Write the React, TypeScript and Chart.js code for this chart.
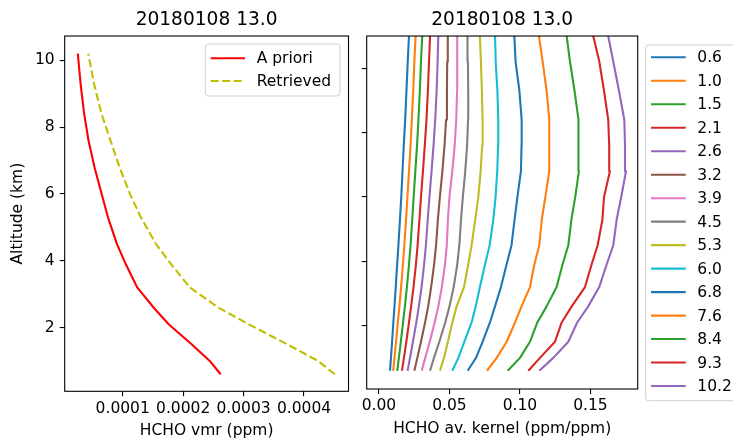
import React, { useEffect, useRef } from "react";
import { Chart, registerables } from "chart.js";

Chart.register(...registerables);

// ---------------- data ----------------
const titleText = "20180108 13.0";

const altitudes = [0.6, 1.0, 1.5, 2.1, 2.6, 3.2, 3.9, 4.5, 5.3, 6.0, 6.8, 7.6, 8.4, 9.3, 10.2];
const aprioriVmr = [0.000262, 0.000244, 0.000214, 0.000176, 0.000151, 0.000124, 0.000105, 0.0000905, 0.0000756, 0.0000652, 0.0000533, 0.0000434, 0.0000362, 0.0000303, 0.0000257];
const retrievedVmr = [0.000451, 0.000423, 0.000372, 0.000308, 0.000258, 0.000211, 0.00018, 0.000155, 0.00013, 0.000112, 0.0000947, 0.0000798, 0.0000649, 0.0000525, 0.000043];

const vmrTicks = [0.0001, 0.0002, 0.0003, 0.0004];
const vmrTickLabels = ["0.0001", "0.0002", "0.0003", "0.0004"];
const altTicks = [2, 4, 6, 8, 10];
const altTickLabels = ["2", "4", "6", "8", "10"];
const akTicks = [0, 0.05, 0.1, 0.15];
const akTickLabels = ["0.00", "0.05", "0.10", "0.15"];

// kernel profile altitudes (last level lies above the plotted range)
const kernelAltitudes = [0.6, 1.0, 1.5, 2.1, 2.6, 3.2, 3.9, 4.5, 5.3, 6.0, 6.8, 7.6, 8.4, 9.3, 10.2, 11.2];
const kernelLabels = ["0.6", "1.0", "1.5", "2.1", "2.6", "3.2", "3.9", "4.5", "5.3", "6.0", "6.8", "7.6", "8.4", "9.3", "10.2"];

const ak06 = [0.0078, 0.0085, 0.0093, 0.0102, 0.011, 0.0119, 0.0129, 0.0138, 0.0149, 0.0158, 0.0167, 0.0176, 0.0186, 0.0195, 0.0204, 0.0215];
const ak10 = [0.0101, 0.011, 0.0121, 0.0134, 0.0145, 0.0157, 0.017, 0.018, 0.0192, 0.0202, 0.0213, 0.0224, 0.0233, 0.0243, 0.0251, 0.0262];
const ak15 = [0.013, 0.0141, 0.0155, 0.0171, 0.0184, 0.0198, 0.0213, 0.0224, 0.0236, 0.0246, 0.0258, 0.027, 0.028, 0.029, 0.0298, 0.0309];
const ak21 = [0.0163, 0.0177, 0.0194, 0.0213, 0.0228, 0.0245, 0.0262, 0.0274, 0.0287, 0.0298, 0.0312, 0.0325, 0.0337, 0.0347, 0.0355, 0.0364];
const ak26 = [0.0203, 0.022, 0.0241, 0.0265, 0.0283, 0.0302, 0.032, 0.0333, 0.0346, 0.0358, 0.0373, 0.0387, 0.0399, 0.0409, 0.0416, 0.0422];
const ak32 = [0.0251, 0.0272, 0.0298, 0.0327, 0.0349, 0.037, 0.0391, 0.0405, 0.0418, 0.0432, 0.045, 0.0465, 0.0476, 0.0482, 0.0484, 0.0488];
const ak39 = [0.0303, 0.0328, 0.036, 0.0395, 0.0421, 0.0446, 0.0468, 0.0481, 0.0489, 0.05, 0.052, 0.0537, 0.0548, 0.0554, 0.0555, 0.0555];
const ak45 = [0.0362, 0.039, 0.0428, 0.047, 0.05, 0.053, 0.0555, 0.057, 0.0582, 0.0595, 0.0612, 0.0625, 0.0632, 0.0633, 0.0631, 0.0628];
const ak53 = [0.0433, 0.0461, 0.0489, 0.052, 0.0551, 0.0603, 0.0633, 0.0657, 0.0683, 0.0705, 0.0721, 0.0732, 0.0735, 0.073, 0.0723, 0.0714];
const ak60 = [0.052, 0.0563, 0.0605, 0.0657, 0.0686, 0.0716, 0.0752, 0.0785, 0.0811, 0.0827, 0.0839, 0.0845, 0.0846, 0.084, 0.0828, 0.0822];
const ak68 = [0.0629, 0.0688, 0.0735, 0.0787, 0.0823, 0.0865, 0.0905, 0.094, 0.0962, 0.0982, 0.1007, 0.1011, 0.1012, 0.0996, 0.0969, 0.0958];
const ak76 = [0.0766, 0.0835, 0.0906, 0.0965, 0.1011, 0.1071, 0.1102, 0.1137, 0.1155, 0.118, 0.1208, 0.1208, 0.1208, 0.1189, 0.1161, 0.1128];
const ak84 = [0.0913, 0.1, 0.1071, 0.1123, 0.1189, 0.126, 0.1302, 0.1343, 0.1365, 0.1392, 0.1418, 0.1416, 0.1414, 0.1387, 0.1355, 0.1325];
const ak93 = [0.1059, 0.1142, 0.1248, 0.1296, 0.1367, 0.1461, 0.1508, 0.1551, 0.1585, 0.1596, 0.1638, 0.1633, 0.1626, 0.1596, 0.1563, 0.1509];
const ak102 = [0.1137, 0.1236, 0.1343, 0.1406, 0.1484, 0.1562, 0.1615, 0.1662, 0.1686, 0.1718, 0.1752, 0.1745, 0.174, 0.1702, 0.1662, 0.1617];
const kernelRows = [ak06, ak10, ak15, ak21, ak26, ak32, ak39, ak45, ak53, ak60, ak68, ak76, ak84, ak93, ak102];

const tab10 = ["#1f77b4", "#ff7f0e", "#2ca02c", "#d62728", "#9467bd", "#8c564b", "#e377c2", "#7f7f7f", "#bcbd22", "#17becf"];

// ---------------- styling ----------------
const FONT = "'DejaVu Sans', 'Liberation Sans', sans-serif";
const BASE = 15.5;
const TITLE = 18.6;

function tickGrid() {
  return { display: true, drawOnChartArea: false, drawTicks: true, tickLength: 5, color: "#000", lineWidth: 1.1 };
}

const framePlugin = {
  id: "mplFrame",
  afterDatasetsDraw(chart: any) {
    const { ctx, chartArea: a } = chart;
    ctx.save();
    ctx.strokeStyle = "#000";
    ctx.lineWidth = 1.1;
    ctx.strokeRect(a.left, a.top, a.right - a.left, a.bottom - a.top);
    ctx.restore();
  },
};

function makeLegend(id: string, cfg: any) {
  return {
    id,
    afterDraw(chart: any) {
      const { ctx } = chart;
      ctx.save();
      const r = 3;
      const { x, y, w, h } = cfg.box;
      ctx.beginPath();
      ctx.moveTo(x + r, y);
      ctx.lineTo(x + w - r, y);
      ctx.arcTo(x + w, y, x + w, y + r, r);
      ctx.lineTo(x + w, y + h - r);
      ctx.arcTo(x + w, y + h, x + w - r, y + h, r);
      ctx.lineTo(x + r, y + h);
      ctx.arcTo(x, y + h, x, y + h - r, r);
      ctx.lineTo(x, y + r);
      ctx.arcTo(x, y, x + r, y, r);
      ctx.closePath();
      ctx.fillStyle = "rgba(255,255,255,0.8)";
      ctx.fill();
      ctx.strokeStyle = "#d0d0d0";
      ctx.lineWidth = 1;
      ctx.stroke();
      ctx.font = `${BASE}px ${FONT}`;
      ctx.textBaseline = "middle";
      ctx.textAlign = "left";
      chart.data.datasets.forEach((ds: any, i: number) => {
        const yy = cfg.y0 + i * cfg.dy;
        ctx.beginPath();
        ctx.setLineDash(ds.borderDash || []);
        ctx.strokeStyle = ds.borderColor;
        ctx.lineWidth = ds.borderWidth;
        ctx.moveTo(cfg.lx0, yy);
        ctx.lineTo(cfg.lx1, yy);
        ctx.stroke();
        ctx.setLineDash([]);
        ctx.fillStyle = "#000";
        ctx.fillText(ds.label, cfg.tx, yy + 1);
      });
      ctx.restore();
    },
  };
}

function baseScaleX(min: number, max: number, ticks: number[], labels: string[], title: string, height: number, titlePadBottom: number) {
  return {
    type: "linear",
    min,
    max,
    afterBuildTicks: (s: any) => {
      s.ticks = ticks.map((v) => ({ value: v }));
    },
    afterFit: (s: any) => {
      s.height = height;
    },
    ticks: {
      autoSkip: false,
      maxRotation: 0,
      padding: 3,
      color: "#000",
      font: { family: FONT, size: BASE },
      callback: (_v: any, i: number) => labels[i],
    },
    grid: tickGrid(),
    border: { display: false },
    title: { display: true, text: title, color: "#000", font: { family: FONT, size: BASE }, padding: { top: 0, bottom: titlePadBottom } },
  };
}

function baseScaleY(min: number, max: number, labels: string[] | null, width: number, title: string | null) {
  return {
    type: "linear",
    min,
    max,
    afterBuildTicks: (s: any) => {
      s.ticks = altTicks.map((v) => ({ value: v }));
    },
    afterFit: (s: any) => {
      s.width = width;
    },
    ticks: {
      autoSkip: false,
      padding: 5,
      color: "#000",
      font: { family: FONT, size: BASE },
      callback: (_v: any, i: number) => (labels ? labels[i] : ""),
    },
    grid: tickGrid(),
    border: { display: false },
    title: title
      ? { display: true, text: title, color: "#000", font: { family: FONT, size: BASE }, padding: { top: 8.7, bottom: 0 } }
      : { display: false },
  };
}

const LEFT_W = 356;
const RIGHT_X = 356;
const RIGHT_W = 377;
const H = 440;

function leftConfig(): any {
  return {
    type: "scatter",
    data: {
      datasets: [
        {
          label: "A priori",
          data: altitudes.map((a, i) => ({ x: aprioriVmr[i], y: a })),
          borderColor: "#ff0000",
          borderWidth: 2.1,
          showLine: true,
          pointRadius: 0,
          borderJoinStyle: "round",
        },
        {
          label: "Retrieved",
          data: altitudes.map((a, i) => ({ x: retrievedVmr[i], y: a })),
          borderColor: "#bfbf00",
          borderWidth: 2.1,
          borderDash: [8, 3.5],
          showLine: true,
          pointRadius: 0,
        },
      ],
    },
    options: {
      animation: false,
      responsive: false,
      events: [],
      layout: { padding: { left: 0, right: LEFT_W - 348.5, top: 0, bottom: 0 } },
      plugins: {
        legend: { display: false },
        tooltip: { enabled: false },
        title: {
          display: true,
          text: titleText,
          fullSize: false,
          color: "#000",
          font: { family: FONT, size: TITLE, weight: "normal" },
          padding: { top: 9.5, bottom: 4.2 },
        },
      },
      scales: {
        x: baseScaleX(0.000004, 0.0004736, vmrTicks, vmrTickLabels, "HCHO vmr (ppm)", H - 391.3, 0),
        y: baseScaleY(0.09, 10.73, altTickLabels, 64.7, "Altitude (km)"),
      },
    },
    plugins: [
      framePlugin,
      makeLegend("leftLegend", {
        box: { x: 205.3, y: 44, w: 134.7, h: 52 },
        y0: 58.3,
        dy: 22.7,
        lx0: 210.7,
        lx1: 245,
        tx: 256.7,
      }),
    ],
  };
}

function rightConfig(): any {
  return {
    type: "scatter",
    data: {
      datasets: kernelRows.map((row, k) => ({
        label: kernelLabels[k],
        data: kernelAltitudes.map((a, i) => ({ x: row[i], y: a })),
        borderColor: tab10[k % 10],
        borderWidth: 2.1,
        showLine: true,
        pointRadius: 0,
        borderJoinStyle: "round",
      })),
    },
    options: {
      animation: false,
      responsive: false,
      events: [],
      layout: { padding: { left: 0, right: RIGHT_W - (637.7 - RIGHT_X), top: 0, bottom: 0 } },
      plugins: {
        legend: { display: false },
        tooltip: { enabled: false },
        title: {
          display: true,
          text: titleText,
          fullSize: false,
          color: "#000",
          font: { family: FONT, size: TITLE, weight: "normal" },
          padding: { top: 9.5, bottom: 4.2 },
        },
      },
      scales: {
        x: baseScaleX(-0.0087, 0.1835, akTicks, akTickLabels, "HCHO av. kernel (ppm/ppm)", H - 389, 1.4),
        y: baseScaleY(0.033, 11.0, null, 366.7 - RIGHT_X, null),
      },
    },
    plugins: [
      framePlugin,
      makeLegend("rightLegend", {
        box: { x: 645.7 - RIGHT_X, y: 45, w: 110, h: 355.7 },
        y0: 57.3,
        dy: 23.48,
        lx0: 651 - RIGHT_X,
        lx1: 685.7 - RIGHT_X,
        tx: 697.3 - RIGHT_X,
      }),
    ],
  };
}

export default function App() {
  const leftRef = useRef<HTMLCanvasElement | null>(null);
  const rightRef = useRef<HTMLCanvasElement | null>(null);

  useEffect(() => {
    const c1 = new Chart(leftRef.current as HTMLCanvasElement, leftConfig());
    const c2 = new Chart(rightRef.current as HTMLCanvasElement, rightConfig());
    return () => {
      c1.destroy();
      c2.destroy();
    };
  }, []);

  return (
    <div style={{ position: "fixed", left: 0, top: 0, width: 733, height: H, background: "#fff", overflow: "hidden" }}>
      <canvas
        ref={leftRef}
        width={LEFT_W}
        height={H}
        style={{ position: "absolute", left: 0, top: 0, width: LEFT_W, height: H }}
      />
      <canvas
        ref={rightRef}
        width={RIGHT_W}
        height={H}
        style={{ position: "absolute", left: RIGHT_X, top: 0, width: RIGHT_W, height: H }}
      />
    </div>
  );
}
